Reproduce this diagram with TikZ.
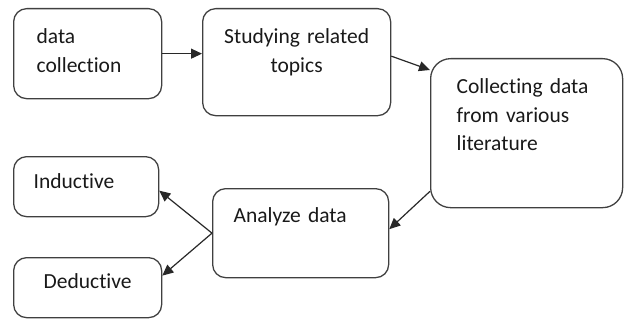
\documentclass[tikz,border=0pt]{standalone}
\usepackage{fontspec}
\setmainfont{Carlito}[Ligatures=NoCommon]
\usetikzlibrary{positioning, arrows.meta}
\definecolor{boxline}{RGB}{64, 64, 64}
\definecolor{arrowline}{RGB}{40, 40, 40}

\begin{document}
\begin{tikzpicture}[x=1pt, y=-1pt, font=\fontsize{21.5}{28.5}\selectfont,
  stage/.style={draw=boxline, line width=1.3pt, rounded corners=13pt, anchor=north west, text height=16pt, text=black!90},
  flow/.style={-{Triangle[length=11pt, width=10pt]}, line width=1.2pt, arrowline}]
  \useasboundingbox (0,0) rectangle (624,321);
  \node[stage, align=left, text width=102pt, inner xsep=23pt, inner ysep=19pt, text depth=36pt] (collection) at (13,8){data\\collection};
  \node[stage, align=center, text width=168pt, inner xsep=10pt, inner ysep=19pt, text depth=53pt] (studying) at (202,8){Studying related\\topics};
  \node[stage, rounded corners=20pt, align=left, text width=140pt, inner xsep=26pt, inner ysep=19pt, text depth=95pt] (literature) at (430,58){Collecting data\\from various\\literature};
  \node[stage, align=left, text width=134pt, inner xsep=21pt, inner ysep=18pt, text depth=37pt] (analyze) at (212,188){Analyze data};
  \node[stage, align=left, text width=105pt, inner xsep=20pt, inner ysep=16pt, text depth=12pt] (inductive) at (13,156){Inductive};
  \node[stage, align=center, text width=128pt, inner xsep=10pt, inner ysep=15pt, text depth=14pt] (deductive) at (13,257){Deductive};
  \draw[flow] (collection.east) -- (collection.east -| studying.west);
  \draw[flow] ([yshift=6pt]studying.east) -- ([yshift=-12pt]literature.north west);
  \draw[flow] ([yshift=17pt]literature.south west) -- ([yshift=4pt]analyze.east);
  \draw[flow] (analyze.west) -- ([yshift=-4pt]inductive.east);
  \draw[flow] (analyze.west) -- ([yshift=12pt]deductive.east);
\end{tikzpicture}
\end{document}
